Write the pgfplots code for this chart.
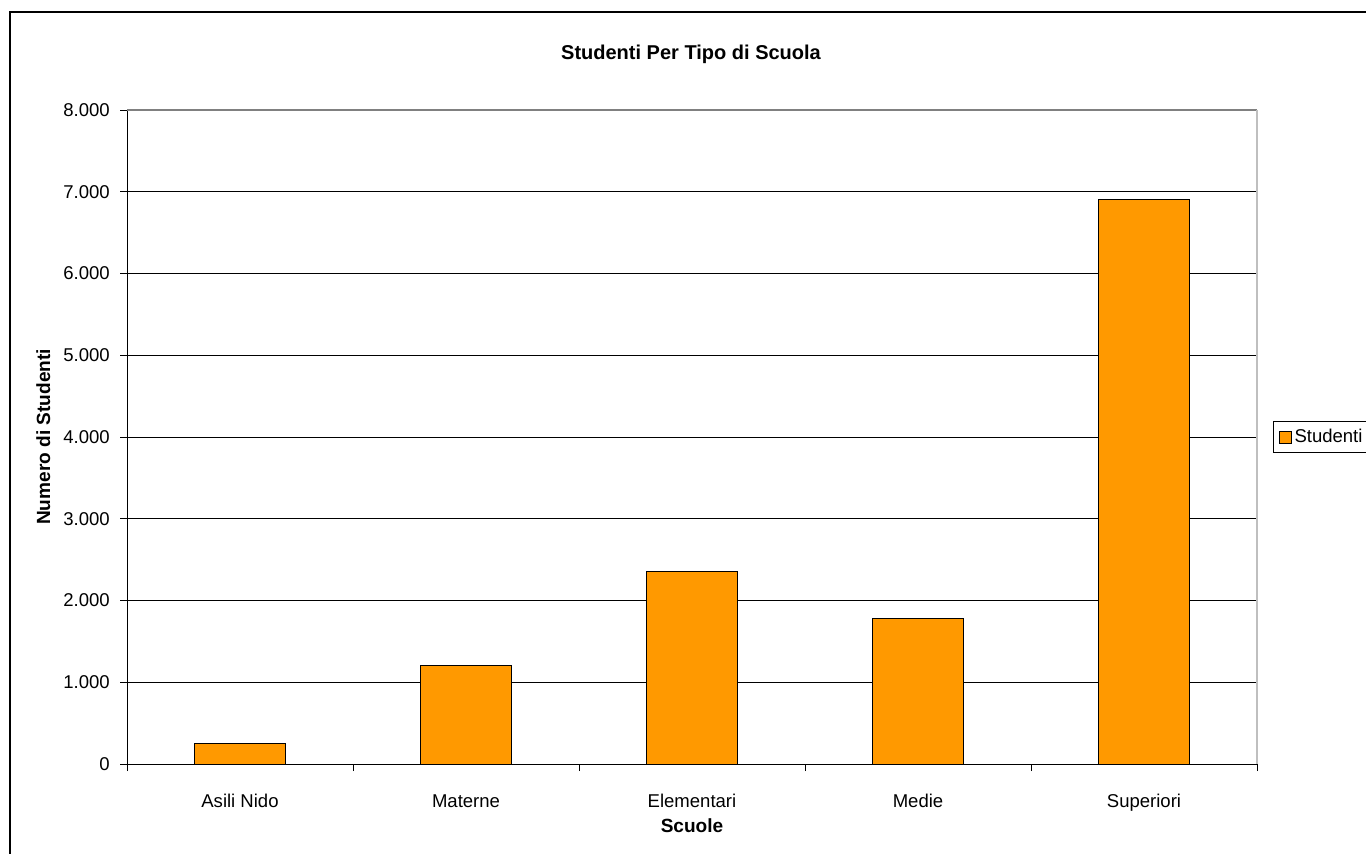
\documentclass[border=0pt]{standalone}
\usepackage{pgfplots}
\pgfplotsset{compat=1.18}
\usepackage{fontspec}
\setmainfont{Liberation Sans}
\definecolor{barorange}{HTML}{FF9900}
\begin{document}
\begin{tikzpicture}
\useasboundingbox (0,0) rectangle (1024.5pt,639.75pt);
\begin{scope}
\clip (0,0) rectangle (1024.5pt,639.75pt);
\draw[line width=1.1pt] (7.5pt,-5pt) -- (7.5pt,630.75pt) -- (1030pt,630.75pt);
\end{scope}
\begin{axis}[
  at={(95.25pt,66.75pt)}, anchor=south west,
  scale only axis, width=847.5pt, height=490.5pt,
  xmin=-0.5, xmax=4.5, ymin=0, ymax=8000,
  ytick={0,1000,...,8000},
  xtick={-0.5,0.5,1.5,2.5,3.5,4.5},
  xticklabels={},
  extra x ticks={0,1,2,3,4},
  extra x tick labels={Asili Nido, Materne, Elementari, Medie, Superiori},
  extra x tick style={tick style={draw=none}},
  tick align=outside,
  major tick length=5.25pt,
  ymajorgrids, grid style={black, line width=0.75pt},
  axis x line*=bottom, axis y line*=left,
  axis line style={black, line width=0.75pt, -},
  tick style={black, line width=0.75pt},
  ticklabel style={font=\fontsize{13.9}{16}\selectfont},
  /pgf/number format/1000 sep={.},
  /pgf/number format/assume math mode=true,
  yticklabel style={anchor=east, inner sep=0pt, xshift=-7.5pt},
  xticklabel style={anchor=base, inner sep=0pt, yshift=-27pt},
  ybar, bar width=0.4,
  legend style={at={(1.01416,0.5)}, anchor=west, draw=black, line width=0.75pt,
    font=\fontsize{13.9}{16}\selectfont, inner xsep=4pt, inner ysep=3.5pt},
  legend image code/.code={\draw[#1, line width=0.75pt] (0pt,-4.5pt) rectangle (9pt,4.5pt);},
  clip=false,
]
\addplot[fill=barorange, draw=black, line width=0.75pt] coordinates {(0,245) (1,1200) (2,2351) (3,1776) (4,6900)};
\addlegendentry{Studenti}
\draw[gray, line width=0.9pt] (rel axis cs:0,1) -- (rel axis cs:1,1);
\draw[black!25, line width=1.2pt] (rel axis cs:1,1) -- (rel axis cs:1,0);
\end{axis}
\node[font=\bfseries\fontsize{15}{18}\selectfont, anchor=base] at (518.25pt,594.75pt) {Studenti Per Tipo di Scuola};
\node[font=\bfseries\fontsize{14.3}{17}\selectfont, anchor=base, rotate=90] at (37.5pt,312pt) {Numero di Studenti};
\node[font=\bfseries\fontsize{14.3}{17}\selectfont, anchor=base] at (519pt,15.2pt) {Scuole};
\end{tikzpicture}
\end{document}
